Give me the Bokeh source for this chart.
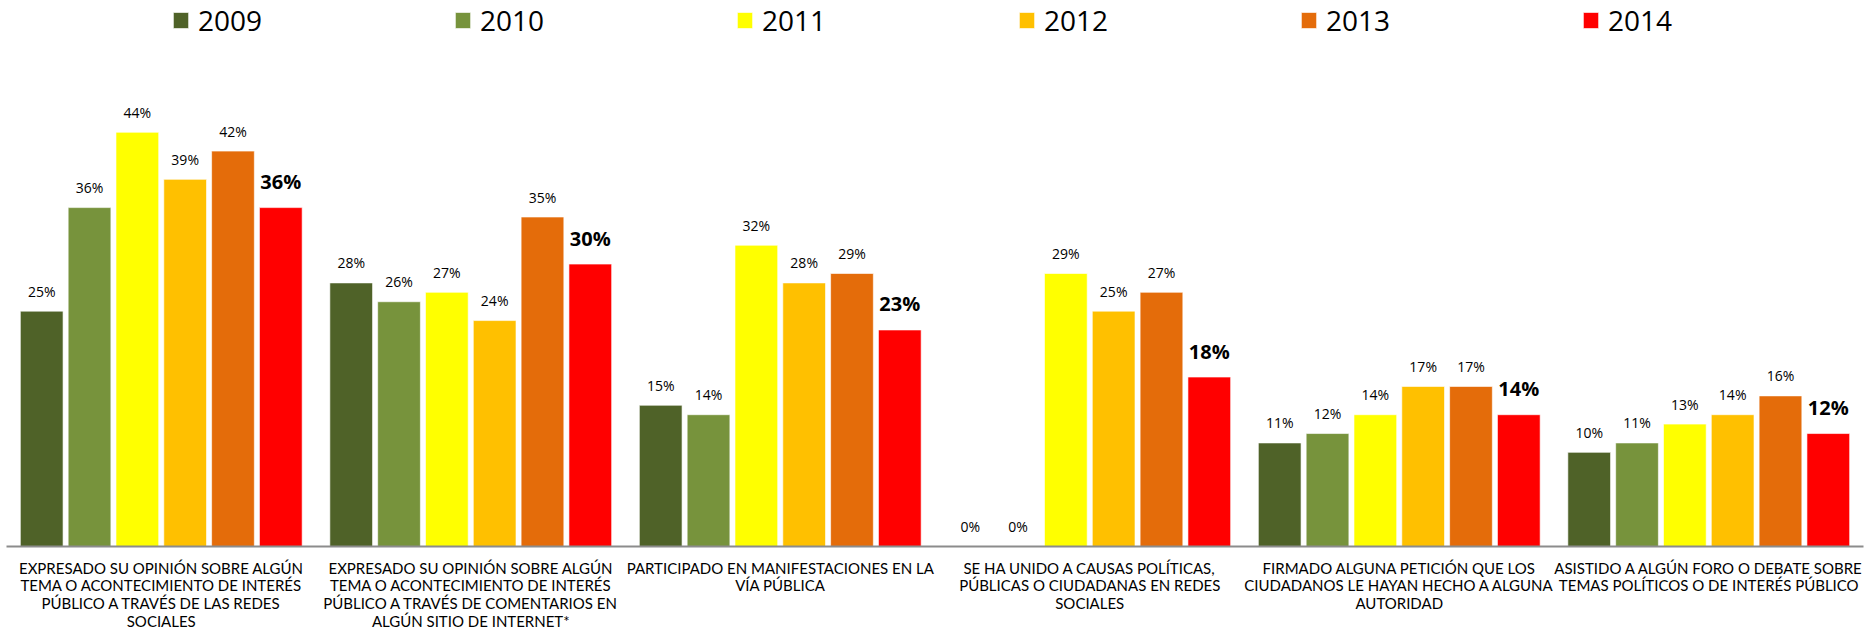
from bokeh.plotting import figure
from bokeh.models import ColumnDataSource, FactorRange, Range1d, Legend, LegendItem
from bokeh.transform import dodge
from bokeh.core.properties import value
from bokeh.embed import file_html
from bokeh.resources import INLINE

categories = [
    "EXPRESADO SU OPINIÓN SOBRE ALGÚN\nTEMA O ACONTECIMIENTO DE INTERÉS\nPÚBLICO A TRAVÉS DE LAS REDES\nSOCIALES",
    "EXPRESADO SU OPINIÓN SOBRE ALGÚN\nTEMA O ACONTECIMIENTO DE INTERÉS\nPÚBLICO A TRAVÉS DE COMENTARIOS EN\nALGÚN SITIO DE INTERNET*",
    "PARTICIPADO EN MANIFESTACIONES EN LA\nVÍA PÚBLICA",
    "SE HA UNIDO A CAUSAS POLÍTICAS,\nPÚBLICAS O CIUDADANAS EN REDES\nSOCIALES",
    "FIRMADO ALGUNA PETICIÓN QUE LOS\nCIUDADANOS LE HAYAN HECHO A ALGUNA\nAUTORIDAD",
    "ASISTIDO A ALGÚN FORO O DEBATE SOBRE\nTEMAS POLÍTICOS O DE INTERÉS PÚBLICO",
]
years = ["2009", "2010", "2011", "2012", "2013", "2014"]
v2009 = [25, 28, 15, 0, 11, 10]
v2010 = [36, 26, 14, 0, 12, 11]
v2011 = [44, 27, 32, 29, 14, 13]
v2012 = [39, 24, 28, 25, 17, 14]
v2013 = [42, 35, 29, 27, 17, 16]
v2014 = [36, 30, 23, 18, 14, 12]
colors = ["#4F6228", "#77933C", "#FFFF00", "#FFC000", "#E46C0A", "#FF0000"]

series = [v2009, v2010, v2011, v2012, v2013, v2014]
data = {"cat": categories}
for y, s in zip(years, series):
    data[y] = s
    data[y + "_lbl"] = [f"{v}%" for v in s]
source = ColumnDataSource(data)

p = figure(
    x_range=FactorRange(*categories, range_padding=0),
    y_range=Range1d(0, 58),
    width=1865, height=632,
    output_backend="svg", toolbar_location=None,
    min_border_left=6, min_border_right=2, min_border_top=0, min_border_bottom=86,
)
p.outline_line_color = None
p.xgrid.grid_line_color = None
p.ygrid.grid_line_color = None
p.yaxis.visible = False

pitch = 0.1545
bw = 0.138
items = []
for i, (y, c) in enumerate(zip(years, colors)):
    off = (i - 2.5) * pitch
    r = p.vbar(x=dodge("cat", off, range=p.x_range), top=y, width=bw, source=source,
               fill_color=c, line_color="#FFFFFF", line_width=1, line_alpha=0.6)
    items.append(LegendItem(label=y, renderers=[r]))
    bold = (y == "2014")
    p.text(x=dodge("cat", off, range=p.x_range), y=y, text=y + "_lbl", source=source,
           text_align="center", text_baseline="middle",
           y_offset=-26 if bold else -20,
           text_font=value("Open Sans"),
           text_font_size="20px" if bold else "14px",
           text_font_style="bold" if bold else "normal",
           text_color="#000000")

legend = Legend(items=items, orientation="horizontal", location=(165, 507),
                glyph_width=19, glyph_height=20, label_standoff=8, label_width=230,
                spacing=25, padding=0, margin=0,
                label_text_font="Open Sans", label_text_font_size="28px",
                label_text_color="#000000",
                background_fill_alpha=0, border_line_alpha=0)
p.add_layout(legend)

ax = p.xaxis[0]
ax.axis_line_color = "#8C8C8C"
ax.axis_line_width = 2
ax.major_tick_line_color = None
ax.minor_tick_line_color = None
ax.major_label_standoff = 6
ax.major_label_text_font = "Lato"
ax.major_label_text_font_size = "15px"
ax.major_label_text_line_height = 0.99
ax.major_label_text_color = "#000000"
ax.major_label_orientation = "horizontal"

open("out.html", "w").write(file_html(p, INLINE))
